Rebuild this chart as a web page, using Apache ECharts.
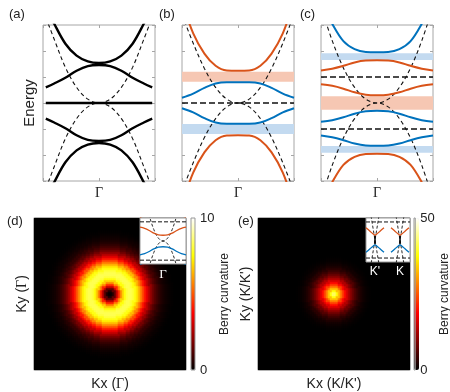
<!DOCTYPE html>
<html><head><meta charset="utf-8">
<script src="https://cdn.jsdelivr.net/npm/echarts@6/dist/echarts.min.js"></script>
<style>html,body{margin:0;padding:0;background:#fff}#c{width:450px;height:392px}</style>
</head><body><div id="c"></div>
<script>
// ---------------- DATA ----------------
const kA  = [-0.95,-0.8,-0.6,-0.4,-0.2,0,0.2,0.4,0.6,0.8,0.95];
const kBC = [-1,-0.8,-0.6,-0.4,-0.2,0,0.2,0.4,0.6,0.8,1];
const kEnds = [-1, 1];
const gammaLabel = 'Γ';

// panel (a)
const aBand1 = [3.7,3.05,2.28,1.82,1.6,1.54,1.6,1.82,2.28,3.05,3.7];
const aBand2 = [0.6,0.75,0.97,1.24,1.42,1.46,1.42,1.24,0.97,0.75,0.6];
const aBand3 = [0,0,0,0,0,0,0,0,0,0,0];
const aBand4 = [-0.6,-0.75,-0.97,-1.24,-1.42,-1.46,-1.42,-1.24,-0.97,-0.75,-0.6];
const aBand5 = [-3.7,-3.05,-2.28,-1.82,-1.6,-1.54,-1.6,-1.82,-2.28,-3.05,-3.7];
const aFreeUp   = [3.3,2.45,1.37,0.6,0.15,0,0.15,0.6,1.37,2.45,3.3];
const aFreeDown = [-3.3,-2.45,-1.37,-0.6,-0.15,0,-0.15,-0.6,-1.37,-2.45,-3.3];

// panel (b)
const bOrangeUp   = [3.9,2.68,1.9,1.43,1.25,1.24,1.25,1.43,1.9,2.68,3.9];
const bBlueUp     = [0.2,0.36,0.58,0.75,0.8,0.8,0.8,0.75,0.58,0.36,0.2];
const bBlueDown   = [-0.2,-0.36,-0.58,-0.75,-0.8,-0.8,-0.8,-0.75,-0.58,-0.36,-0.2];
const bOrangeDown = [-3.9,-2.68,-1.9,-1.43,-1.25,-1.24,-1.25,-1.43,-1.9,-2.68,-3.9];
const bFreeUp     = [3.4,2.3,1.33,0.6,0.15,0,0.15,0.6,1.33,2.3,3.4];
const bFreeDown   = [-3.4,-2.3,-1.33,-0.6,-0.15,0,-0.15,-0.6,-1.33,-2.3,-3.4];
const bFlat = [0, 0];
const bOrangeGap = [0.82, 1.2];
const bBlueGap   = [-1.19, -0.81];

// panel (c)
const cBlueTop      = [3.9,3.05,2.38,2.07,1.96,1.95,1.96,2.07,2.38,3.05,3.9];
const cOrangeA      = [1.25,1.32,1.43,1.56,1.63,1.64,1.63,1.56,1.43,1.32,1.25];
const cOrangeB      = [0.72,0.66,0.55,0.41,0.32,0.3,0.32,0.41,0.55,0.66,0.72];
const cBlueB        = [-0.72,-0.66,-0.55,-0.41,-0.32,-0.3,-0.32,-0.41,-0.55,-0.66,-0.72];
const cBlueA        = [-1.25,-1.32,-1.43,-1.56,-1.63,-1.64,-1.63,-1.56,-1.43,-1.32,-1.25];
const cOrangeBottom = [-3.9,-3.05,-2.38,-2.07,-1.96,-1.95,-1.96,-2.07,-2.38,-3.05,-3.9];
const cFreeUp   = [3.7,2.4,1.35,0.6,0.15,0,0.15,0.6,1.35,2.4,3.7];
const cFreeDown = [-3.7,-2.4,-1.35,-0.6,-0.15,0,-0.15,-0.6,-1.35,-2.4,-3.7];
const cFlatUp = [1, 1];
const cFlatDown = [-1, -1];
const cBlueGapUp   = [1.65, 1.91];
const cOrangeGap   = [-0.26, 0.26];
const cBlueGapDown = [-1.91, -1.65];

// panel (d): Berry curvature vs distance from the centre (one value per cell ring)
const ringProfile = [0.1,0.5,1.4,2.8,4.3,5.7,6.8,7.6,8.1,8.3,8.3,8.1,7.7,7.2,6.5,5.7,4.9,4.1,3.4,2.8,2.2,1.7,1.3,1.0,0.75,0.55,0.4,0.28,0.2,0.13,0.08,0.05];
const dMax = 10;
// panel (e)
const spotProfile = [42,38,33,28,23.5,19.5,16,13,10.3,8,6,4.4,3.1,2.1,1.4,0.9,0.55,0.3,0.15];
const eMax = 50;

// inset (e)
const eKLabels = ["K'", 'K'];
const eKValues = [0, 1];
const eKp = [-0.36,-0.2,-0.08,0,0.08,0.2,0.36];
const eK  = [0.64,0.8,0.92,1,1.08,1.2,1.36];
const eUpper = [0.56,0.4,0.28,0.22,0.28,0.4,0.56];
const eLower = [-0.56,-0.4,-0.28,-0.22,-0.28,-0.4,-0.56];
const eConeKp1 = [-0.16,0.16], eConeKp2 = [0.16,-0.16];
const eConeK1 = [0.84,1.16], eConeK2 = [1.16,0.84];
const eConeE = [1.1,-1.1];
const eStemKp = [0,0], eStemK = [1,1], eStemE = [0.2,-0.2];
const eFlatK = [-0.36,1.4], eFlatUp = [0.82,0.82], eFlatDown = [-0.82,-0.82];

// ---------------- STYLE ----------------
const SANS = 'Liberation Sans, Arial, sans-serif';
const SERIF = 'Liberation Serif, Times New Roman, serif';
const INK = '#222';
const BORDER = '#a6a6a6';
const ORANGE = '#d95319', BLUE = '#0072bd';
const ORANGE_BAND = '#f6c7b3', BLUE_BAND = '#c3daf0';
const HOT = ['#000000','#550000','#aa0000','#ff0000','#ff5500','#ffaa00','#ffff00','#ffff80','#ffffff'];
const NOLINE = {show:false, onZero:false};

const grids = [], xAxes = [], yAxes = [], series = [], visualMaps = [];
const addGrid = g => (grids.push(g), grids.length - 1);
const addX = a => (xAxes.push(a), xAxes.length - 1);
const addY = a => (yAxes.push(a), yAxes.length - 1);

function line(P, k, E, color, width, dash, z, smooth) {
  series.push({type:'line', xAxisIndex:P.xi, yAxisIndex:P.yi, silent:true, animation:false,
    data:k.map((v,i)=>[v,E[i]]), showSymbol:false, smooth: smooth===undefined?0.35:smooth, z:z||3,
    lineStyle:{color, width, type:dash||'solid', cap:'butt'}});
}
function bands(P, list) {
  series.push({type:'line', xAxisIndex:P.xi, yAxisIndex:P.yi, data:[], silent:true, z:1, animation:false,
    markArea:{silent:true, data:list.map(([r,col]) => [{yAxis:r[0], itemStyle:{color:col, opacity:1}}, {yAxis:r[1]}])}});
}
function bandPanel(left, yname) {
  const gi = addGrid({left, top:25, width:112, height:156, show:true, borderColor:BORDER, borderWidth:1, backgroundColor:'transparent'});
  const tick = {show:true, inside:true, length:3, lineStyle:{color:BORDER}};
  const xi = addX({gridIndex:gi, type:'value', min:-1, max:1, interval:1, axisLine:NOLINE, axisTick:tick, splitLine:{show:false},
    axisLabel:{margin:5, fontFamily:SERIF, fontSize:14, color:INK, formatter:v => v===0 ? gammaLabel : ''}});
  addX({gridIndex:gi, type:'value', position:'top', min:-1, max:1, interval:1, axisLine:NOLINE, axisTick:tick, axisLabel:{show:false}, splitLine:{show:false}});
  const yi = addY({gridIndex:gi, type:'value', min:-3, max:3, interval:1, axisLine:NOLINE, axisTick:tick, axisLabel:{show:false}, splitLine:{show:false},
    name:yname||'', nameLocation:'middle', nameGap:6, nameRotate:90, nameTextStyle:{fontFamily:SANS, fontSize:15, color:INK}});
  addY({gridIndex:gi, type:'value', position:'right', min:-3, max:3, interval:1, axisLine:NOLINE, axisTick:tick, axisLabel:{show:false}, splitLine:{show:false}});
  return {xi, yi};
}

// (a)
const A = bandPanel(43, 'Energy');
line(A, kA, aFreeUp, '#111', 1.1, [4,3], 2);
line(A, kA, aFreeDown, '#111', 1.1, [4,3], 2);
[aBand1, aBand2, aBand3, aBand4, aBand5].forEach(E => line(A, kA, E, '#000', 2.4));

// (b)
const B = bandPanel(182);
bands(B, [[bOrangeGap, ORANGE_BAND], [bBlueGap, BLUE_BAND]]);
line(B, kBC, bFreeUp, '#111', 1.1, [4,3], 2);
line(B, kBC, bFreeDown, '#111', 1.1, [4,3], 2);
line(B, kEnds, bFlat, '#111', 1.3, [6,3], 2, false);
line(B, kBC, bOrangeUp, ORANGE, 2);
line(B, kBC, bBlueUp, BLUE, 2);
line(B, kBC, bBlueDown, BLUE, 2);
line(B, kBC, bOrangeDown, ORANGE, 2);

// (c)
const C = bandPanel(321);
bands(C, [[cBlueGapUp, BLUE_BAND], [cOrangeGap, ORANGE_BAND], [cBlueGapDown, BLUE_BAND]]);
line(C, kBC, cFreeUp, '#111', 1.1, [4,3], 2);
line(C, kBC, cFreeDown, '#111', 1.1, [4,3], 2);
line(C, kEnds, cFlatUp, '#111', 1.3, [6,3], 2, false);
line(C, kEnds, cFlatDown, '#111', 1.3, [6,3], 2, false);
line(C, kBC, cBlueTop, BLUE, 2);
line(C, kBC, cOrangeA, ORANGE, 2);
line(C, kBC, cOrangeB, ORANGE, 2);
line(C, kBC, cBlueB, BLUE, 2);
line(C, kBC, cBlueA, BLUE, 2);
line(C, kBC, cOrangeBottom, ORANGE, 2);

// heatmaps
const N = 76;
const cellIdx = Array.from({length:N}, (_, i) => String(i));
function cells(profile) {
  const out = [], c = (N - 1) / 2;
  for (let i = 0; i < N; i++) for (let j = 0; j < N; j++) {
    const d = Math.floor(Math.hypot(i - c, j - c));
    out.push([i, j, d < profile.length ? profile[d] : 0]);
  }
  return out;
}
const nameStyle = {fontFamily:SANS, fontSize:14, color:INK, rich:{g:{fontFamily:SERIF, fontSize:14, color:INK}}};
function heatPanel(left, profile, xName, yName) {
  const gi = addGrid({left, top:218, width:152, height:152});
  const xi = addX({gridIndex:gi, type:'category', data:cellIdx, axisLine:NOLINE, axisTick:{show:false}, axisLabel:{show:false}, splitLine:{show:false},
    name:xName, nameLocation:'middle', nameGap:7, nameTextStyle:nameStyle});
  const yi = addY({gridIndex:gi, type:'category', data:cellIdx, axisLine:NOLINE, axisTick:{show:false}, axisLabel:{show:false}, splitLine:{show:false},
    name:yName, nameLocation:'middle', nameGap:5, nameRotate:90, nameTextStyle:nameStyle});
  series.push({type:'heatmap', xAxisIndex:xi, yAxisIndex:yi, data:cells(profile), progressive:0, silent:true, animation:false, itemStyle:{borderWidth:0}});
  return series.length - 1;
}
function colorbar(left, width, max, si) {
  const gi = addGrid({left, top:218, width, height:152, show:true, borderColor:'#999', borderWidth:1, backgroundColor:'transparent', z:5});
  addX({gridIndex:gi, type:'value', min:0, max:1, show:false});
  addY({gridIndex:gi, type:'value', position:'right', min:0, max, interval:max, axisLine:NOLINE, axisTick:{show:false}, splitLine:{show:false},
    axisLabel:{margin:5, fontFamily:SANS, fontSize:13, color:INK},
    name:'Berry curvature', nameLocation:'middle', nameGap:18, nameRotate:90, nameTextStyle:{fontFamily:SANS, fontSize:12, color:INK}});
  visualMaps.push({type:'continuous', seriesIndex:si, min:0, max, left, top:218, itemWidth:width, itemHeight:152,
    calculable:false, padding:0, inRange:{color:HOT}, hoverLink:false});
}
function insetPanel(left, width, height, xmin, xmax, ymin, ymax, labelOpt) {
  const gi = addGrid({left, top:218, width, height, show:true, backgroundColor:'#fff', borderColor:'#999', borderWidth:1, z:10});
  const xi = addX(Object.assign({gridIndex:gi, type:'value', min:xmin, max:xmax, z:12, axisLine:NOLINE, axisTick:{show:false}, splitLine:{show:false}}, labelOpt));
  const yi = addY({gridIndex:gi, type:'value', min:ymin, max:ymax, show:false, axisLine:NOLINE, splitLine:{show:false}});
  return {xi, yi};
}

const sd = heatPanel(34, ringProfile, 'Kx ({g|Γ})', 'Ky ({g|Γ})');
colorbar(191, 4, dMax, sd);
const se = heatPanel(258, spotProfile, "Kx (K/K')", "Ky (K/K')");
colorbar(414, 5, eMax, se);

// inset (d)
const ID = insetPanel(140, 46, 46, -1, 1, -1.2, 1.2,
  {interval:1, axisLabel:{margin:4, fontFamily:SERIF, fontSize:13, color:'#fff', formatter:v => v===0 ? gammaLabel : ''}});
line(ID, kBC, cFreeUp, '#111', 0.9, [3,2], 11);
line(ID, kBC, cFreeDown, '#111', 0.9, [3,2], 11);
line(ID, kEnds, cFlatUp, '#111', 1, [4,2], 11, false);
line(ID, kEnds, cFlatDown, '#111', 1, [4,2], 11, false);
line(ID, kBC, cOrangeA, ORANGE, 1.3, null, 12);
line(ID, kBC, cOrangeB, ORANGE, 1.3, null, 12);
line(ID, kBC, cBlueB, BLUE, 1.3, null, 12);
line(ID, kBC, cBlueA, BLUE, 1.3, null, 12);

// inset (e)
const IE = insetPanel(366, 44, 44, -0.36, 1.4, -1, 1,
  {axisLabel:{customValues:eKValues, margin:4, fontFamily:SANS, fontSize:12, color:'#fff', formatter:v => eKLabels[eKValues.indexOf(v)] || ''}});
line(IE, eFlatK, eFlatUp, '#111', 1, [4,2], 11, false);
line(IE, eFlatK, eFlatDown, '#111', 1, [4,2], 11, false);
line(IE, eConeKp1, eConeE, '#111', 0.9, [3,2], 11, false);
line(IE, eConeKp2, eConeE, '#111', 0.9, [3,2], 11, false);
line(IE, eConeK1, eConeE, '#111', 0.9, [3,2], 11, false);
line(IE, eConeK2, eConeE, '#111', 0.9, [3,2], 11, false);
line(IE, eStemKp, eStemE, '#000', 1.5, null, 12, false);
line(IE, eStemK, eStemE, '#000', 1.5, null, 12, false);
line(IE, eKp, eUpper, ORANGE, 1.3, null, 12);
line(IE, eK, eUpper, ORANGE, 1.3, null, 12);
line(IE, eKp, eLower, BLUE, 1.3, null, 12);
line(IE, eK, eLower, BLUE, 1.3, null, 12);

const panelLabels = ['(a)','(b)','(c)','(d)','(e)'];
const labelLeft = [9, 159, 300, 7, 238];
const labelTop = [8, 8, 8, 215, 215];

const chart = echarts.init(document.getElementById('c'), null, {renderer:'canvas'});
chart.setOption({
  animation:false,
  backgroundColor:'#fff',
  title: panelLabels.map((t, i) => ({text:t, left:labelLeft[i], top:labelTop[i], padding:0,
    textStyle:{fontFamily:SANS, fontSize:13, fontWeight:'normal', color:INK}})),
  grid:grids, xAxis:xAxes, yAxis:yAxes, visualMap:visualMaps, series
});
</script></body></html>
